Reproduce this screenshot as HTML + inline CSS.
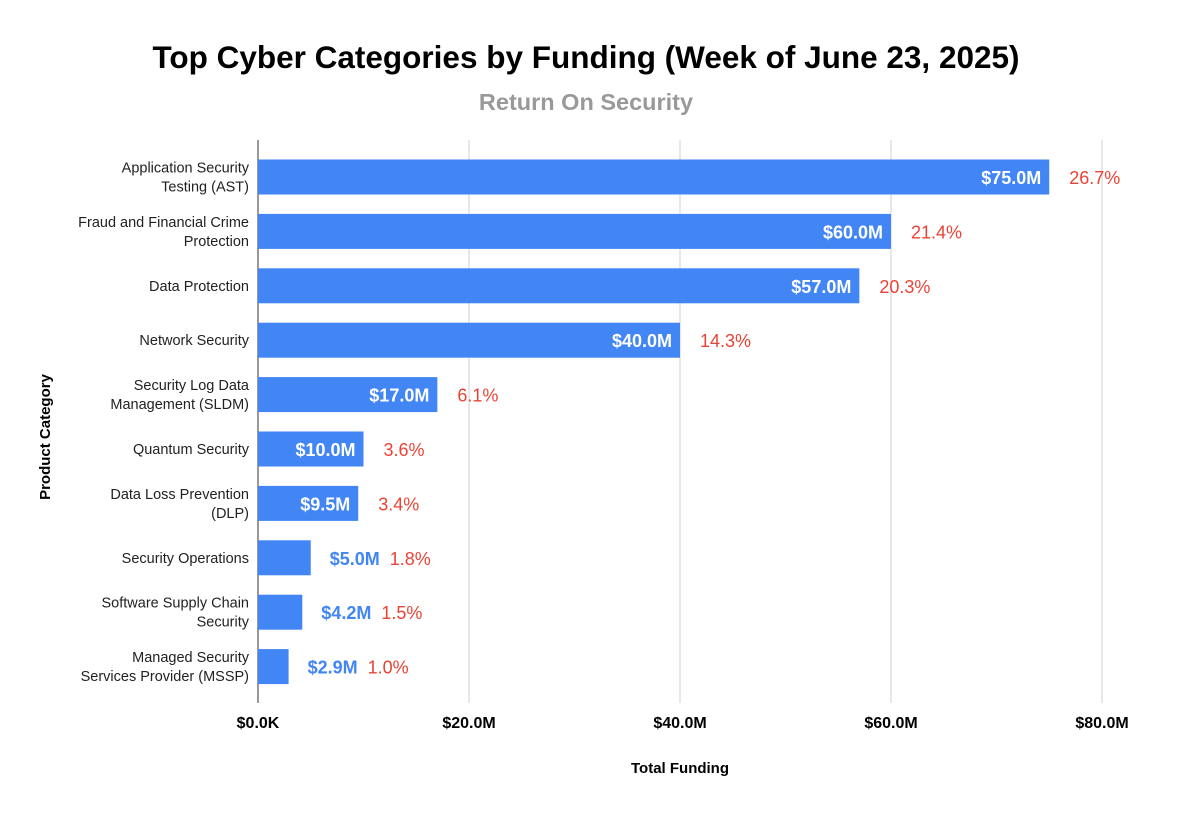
<!DOCTYPE html>
<html><head><meta charset="utf-8"><style>
body{margin:0;background:#fff;font-family:"Liberation Sans",Arial,sans-serif}
svg text{font-family:"Liberation Sans",Arial,sans-serif}
</style></head><body>
<svg id="chart" width="1178" height="818">
<text x="586" y="68" text-anchor="middle" font-size="31.5" font-weight="bold" fill="#000">Top Cyber Categories by Funding (Week of June 23, 2025)</text>
<text x="586" y="110" text-anchor="middle" font-size="23.5" font-weight="bold" fill="#999">Return On Security</text>
<text transform="translate(50,437) rotate(-90)" text-anchor="middle" font-size="15" font-weight="bold">Product Category</text>
<text x="680" y="773" text-anchor="middle" font-size="15" font-weight="bold">Total Funding</text>
<g id="grid"></g><g id="bars"></g><g id="labels"></g>
</svg>
<script>
const categories=[["Application Security","Testing (AST)"],["Fraud and Financial Crime","Protection"],["Data Protection"],["Network Security"],["Security Log Data","Management (SLDM)"],["Quantum Security"],["Data Loss Prevention","(DLP)"],["Security Operations"],["Software Supply Chain","Security"],["Managed Security","Services Provider (MSSP)"]];
const values=[75.0,60.0,57.0,40.0,17.0,10.0,9.5,5.0,4.2,2.9];
const valueLabels=["$75.0M","$60.0M","$57.0M","$40.0M","$17.0M","$10.0M","$9.5M","$5.0M","$4.2M","$2.9M"];
const percents=["26.7%","21.4%","20.3%","14.3%","6.1%","3.6%","3.4%","1.8%","1.5%","1.0%"];
const ticks=[0,20,40,60,80];
const tickLabels=["$0.0K","$20.0M","$40.0M","$60.0M","$80.0M"];
const NS="http://www.w3.org/2000/svg";
const x=v=>258+v*(1102-258)/80;
const yc=i=>177+i*54.4;
function mk(t,a,p){const e=document.createElementNS(NS,t);for(const k in a)e.setAttribute(k,a[k]);p.appendChild(e);return e;}
const grid=document.getElementById('grid'),bars=document.getElementById('bars'),labels=document.getElementById('labels');
ticks.forEach((t,i)=>{
 if(t>0){const l=mk('line',{x1:x(t),x2:x(t),y1:140,y2:703,stroke:'#d0d0d0'},grid);
 
 }
 const tx=mk('text',{x:x(t),y:728,'text-anchor':'middle','font-size':16,'font-weight':'bold'},grid);tx.textContent=tickLabels[i];
 
 
});
const ax=mk('line',{x1:258,x2:258,y1:140,y2:703,stroke:'#333'},grid);


values.forEach((v,i)=>{
 const y=yc(i);
 const r=mk('rect',{x:258,y:y-17.5,width:x(v)-258,height:35,fill:'#4285f4'},bars);
 
 
 const lines=categories[i];
 lines.forEach((s,j)=>{const t=mk('text',{x:249,y:y+5+(j-(lines.length-1)/2)*19,'text-anchor':'end','font-size':14.5,fill:'#222'},labels);t.textContent=s;
 
 });
 const inside=v>=9;
 const vl=mk('text',{'font-size':18,'font-weight':'bold',y:y+7},labels);
 vl.textContent=valueLabels[i];
 
 
 let px;
 if(inside){vl.setAttribute('x',x(v)-8);vl.setAttribute('text-anchor','end');vl.setAttribute('fill','#fff');px=x(v)+20;}
 else{vl.setAttribute('x',x(v)+19);vl.setAttribute('fill','#4285f4');px=x(v)+19+vl.getComputedTextLength()+10;}
 const pl=mk('text',{x:px,y:y+7,'font-size':18,fill:'#ea4335'},labels);pl.textContent=percents[i];
 
 
});
</script>
</body></html>
